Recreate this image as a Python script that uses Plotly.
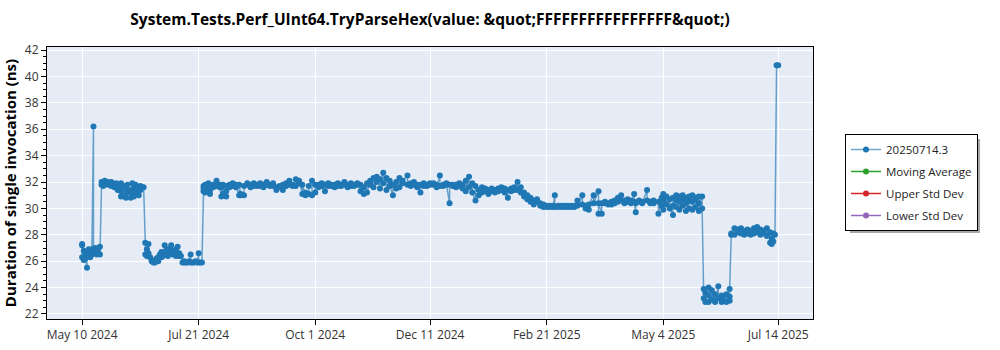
import plotly.graph_objects as go

# ---- data ----
dates = [
    "2024-05-10", "2024-05-11", "2024-05-12", "2024-05-13", "2024-05-14", "2024-05-15",
    "2024-05-16", "2024-05-17", "2024-05-18", "2024-05-19", "2024-05-20", "2024-05-21",
    "2024-05-22", "2024-05-23", "2024-05-24", "2024-05-26", "2024-05-27", "2024-05-28",
    "2024-05-30", "2024-05-31", "2024-06-01", "2024-06-02", "2024-06-03", "2024-06-05",
    "2024-06-06", "2024-06-07", "2024-06-09", "2024-06-10", "2024-06-11", "2024-06-12",
    "2024-06-14", "2024-06-15", "2024-06-16", "2024-06-17",
    "2024-06-18", "2024-06-19", "2024-06-20", "2024-06-21", "2024-06-22", "2024-06-23",
    "2024-06-24", "2024-06-25", "2024-06-26", "2024-06-27", "2024-06-28", "2024-06-29",
    "2024-06-30", "2024-07-01", "2024-07-02", "2024-07-03", "2024-07-04", "2024-07-05",
    "2024-07-06", "2024-07-07", "2024-07-08", "2024-07-09", "2024-07-10", "2024-07-11",
    "2024-07-12", "2024-07-13", "2024-07-14", "2024-07-15", "2024-07-16", "2024-07-17",
    "2024-07-18", "2024-07-19", "2024-07-20", "2024-07-21", "2024-07-22", "2024-07-23",
    "2024-07-24", "2024-07-25", "2024-07-27", "2024-07-28", "2024-07-30", "2024-08-01",
    "2024-08-03", "2024-08-04", "2024-08-05", "2024-08-07", "2024-08-09", "2024-08-11",
    "2024-08-13", "2024-08-15", "2024-08-16", "2024-08-18", "2024-08-20", "2024-08-22",
    "2024-08-24", "2024-08-26", "2024-08-28", "2024-08-30", "2024-09-01", "2024-09-03",
    "2024-09-05", "2024-09-07", "2024-09-09", "2024-09-11", "2024-09-13", "2024-09-15",
    "2024-09-17", "2024-09-19", "2024-09-21", "2024-09-23", "2024-09-25", "2024-09-27",
    "2024-09-29", "2024-10-01", "2024-10-03", "2024-10-05", "2024-10-07", "2024-10-09",
    "2024-10-11", "2024-10-13", "2024-10-15", "2024-10-17", "2024-10-19", "2024-10-21",
    "2024-10-23", "2024-10-25", "2024-10-27", "2024-10-29", "2024-10-31", "2024-11-02",
    "2024-11-04", "2024-11-06", "2024-11-08", "2024-11-10", "2024-11-12", "2024-11-14",
    "2024-11-16", "2024-11-18", "2024-11-20", "2024-11-22", "2024-11-24", "2024-11-27",
    "2024-11-29", "2024-12-01", "2024-12-03", "2024-12-05", "2024-12-07", "2024-12-09",
    "2024-12-11", "2024-12-13", "2024-12-15", "2024-12-17", "2024-12-19", "2024-12-21",
    "2024-12-23", "2024-12-25", "2024-12-27", "2024-12-29", "2024-12-31", "2025-01-02",
    "2025-01-04", "2025-01-06", "2025-01-08", "2025-01-10", "2025-01-12", "2025-01-14",
    "2025-01-16", "2025-01-18", "2025-01-20", "2025-01-22", "2025-01-24", "2025-01-26",
    "2025-01-28", "2025-01-30", "2025-02-01", "2025-02-03", "2025-02-05", "2025-02-07",
    "2025-02-09", "2025-02-11", "2025-02-13", "2025-02-15", "2025-02-17", "2025-02-19",
    "2025-02-21", "2025-02-23", "2025-02-25", "2025-02-26", "2025-02-28", "2025-03-02",
    "2025-03-04", "2025-03-06", "2025-03-08", "2025-03-10", "2025-03-12", "2025-03-15",
    "2025-03-17", "2025-03-19", "2025-03-22", "2025-03-25", "2025-03-27", "2025-03-29",
    "2025-03-31", "2025-04-02", "2025-04-04", "2025-04-06", "2025-04-08", "2025-04-10",
    "2025-04-12", "2025-04-14", "2025-04-16", "2025-04-17", "2025-04-19", "2025-04-21",
    "2025-04-24", "2025-04-26", "2025-04-28", "2025-05-01", "2025-05-03", "2025-05-04",
    "2025-05-06", "2025-05-08", "2025-05-10", "2025-05-12", "2025-05-14", "2025-05-16",
    "2025-05-18", "2025-05-20", "2025-05-22", "2025-05-24", "2025-05-26", "2025-05-28",
    "2025-05-29", "2025-05-30", "2025-06-01", "2025-06-03", "2025-06-05", "2025-06-07",
    "2025-06-09", "2025-06-10", "2025-06-12", "2025-06-14", "2025-06-15", "2025-06-17",
    "2025-06-19", "2025-06-21", "2025-06-23", "2025-06-25", "2025-06-27", "2025-06-29",
    "2025-07-01", "2025-07-03", "2025-07-05", "2025-07-07", "2025-07-09", "2025-07-10",
    "2025-07-11", "2025-07-12", "2025-07-13", "2025-07-14",
]

# one or more benchmark runs per date (ns)
runs = [
    [27.2, 26.3, 27.3], [26.1, 26.8], [26.6, 26.2], [25.5, 26.4], [26.6, 26.9], [26.3, 26.8],
    [26.9, 26.5], [36.2, 26.6], [26.8, 27.0], [26.5, 26.9], [26.6, 27.0], [27.1, 26.5],
    [31.8, 32.0], [31.7, 32.0], [31.9, 32.1], [31.8, 32.0], [31.9], [31.7, 32.0],
    [31.8, 31.6], [31.9], [31.6, 31.4], [31.5], [31.3, 31.9, 30.9], [31.7, 31.0],
    [31.5, 30.8], [31.8, 31.2], [31.4, 30.8], [31.9, 31.1], [31.6, 30.9], [31.8, 31.3],
    [31.5, 31.0], [31.7, 31.4], [31.6], [31.6],
    [27.4, 26.5], [26.9, 26.4], [27.3, 26.6], [26.3], [26.1, 26.0], [25.9],
    [25.9, 26.0], [26.2], [26.3, 26.0], [26.5], [26.3, 26.7], [26.6, 26.4],
    [27.2, 26.6], [26.8, 26.5], [26.9, 26.4], [26.7], [27.2, 26.6], [26.8, 26.5],
    [26.6], [26.9, 26.4], [27.1, 26.5], [26.6, 26.4], [26.4], [25.9],
    [25.9, 26.0], [25.9], [25.9], [26.0], [26.5, 25.9], [25.9],
    [25.9], [26.0], [25.9], [26.6, 25.9], [25.9], [25.9],
    [31.3, 31.7, 31.5], [31.8, 31.2, 31.6], [31.6, 31.9], [31.1, 31.7, 31.4], [31.8, 31.6], [32.1, 31.7],
    [31.8, 31.6], [30.9, 31.6], [31.1, 31.8], [31.7, 30.9, 31.3], [31.8, 31.6], [31.9, 31.7],
    [31.8, 31.6], [31.0, 31.8], [31.1, 31.0], [31.0, 31.7], [31.8, 31.9], [31.8, 31.6],
    [31.7, 31.9], [31.8, 31.7], [31.9, 31.7], [31.8, 31.6], [32.0, 31.8], [31.8, 31.7],
    [31.7, 31.9], [31.6, 31.4], [31.7, 31.6], [31.4, 31.8], [31.7, 31.9], [31.8, 32.1],
    [31.8, 31.7], [32.2, 31.7], [31.9, 32.1], [31.1, 31.8], [31.0, 31.2], [31.1, 31.7],
    [32.1, 31.0], [31.2, 31.8], [31.8, 31.6], [31.9, 31.7], [31.3, 31.8], [31.9, 31.7],
    [31.8, 31.7], [31.8, 31.6], [31.9, 31.7], [31.8, 31.7], [32.0, 31.8], [31.8, 31.6],
    [31.9, 31.7], [31.8, 31.7], [31.8, 31.9], [31.3, 31.8], [31.1, 31.6], [31.9, 31.2],
    [32.1, 31.8], [32.3, 31.6], [32.0, 32.4], [31.5, 32.2], [32.7, 31.9], [32.3, 31.4],
    [32.1, 31.7], [31.0, 31.8], [32.0, 31.5], [32.3, 31.6], [31.9, 32.1], [32.5, 31.8],
    [31.9, 31.7], [31.8, 32.0], [31.6, 31.8], [31.2, 31.8], [31.9, 31.7], [31.8, 31.7],
    [31.9, 31.8], [31.8, 31.9], [31.8, 31.6], [32.5, 31.7], [31.8, 31.7], [31.9, 31.8],
    [30.4, 31.8], [31.8, 31.7], [31.8, 31.6], [31.7, 31.9], [31.8, 31.5], [32.1, 31.3],
    [32.4, 31.6], [31.9, 31.2], [30.6, 31.7], [31.4, 31.0], [31.6, 31.2], [31.3, 31.5],
    [31.4, 31.1], [31.5, 31.3], [31.4, 31.2], [31.5, 31.3], [31.6, 31.4], [31.2, 31.5],
    [30.8, 31.4], [31.5, 31.3], [31.6, 31.4], [32.0, 31.4], [31.6, 31.2], [31.2, 30.9],
    [31.0, 30.7], [30.8, 30.5], [30.6, 30.3], [30.5, 30.7], [30.4, 30.2], [30.1, 30.3],
    [30.2, 30.1], [30.2, 30.1], [30.1, 30.2], [31.0, 30.1], [30.2, 30.1], [30.1, 30.2],
    [30.1, 30.2], [30.2, 30.1], [30.1, 30.2], [30.2, 30.1], [30.6, 30.2], [31.0, 30.3],
    [30.2, 30.0], [29.9, 30.3], [31.0, 30.4], [31.3, 29.6, 30.4], [29.6, 30.4], [30.4, 30.5],
    [30.4, 30.3], [30.5, 30.3], [30.6, 30.4], [30.8, 30.5], [31.0, 30.6], [30.6, 30.4],
    [30.5, 30.7], [30.6, 30.4], [31.1, 30.5], [29.7, 30.4], [30.5, 30.6], [30.5, 30.4],
    [31.4, 30.6], [30.5, 30.4], [30.6, 30.4], [30.5, 29.6], [30.8, 30.2], [31.1, 29.9, 30.6],
    [30.9, 30.3], [30.7, 30.0], [29.5, 30.8, 30.2], [31.0, 30.1, 30.6], [30.9, 29.9, 30.5], [31.0, 30.2, 30.7],
    [30.8, 29.8, 30.4], [30.9, 30.0, 30.6], [31.0, 29.9, 30.5], [30.8, 30.1, 30.7], [30.9, 29.8, 30.4], [30.9, 30.0],
    [23.2, 23.9], [22.9, 23.6], [23.4, 22.9, 24.0], [23.1, 23.8], [22.9, 23.5, 23.0], [24.1, 23.2],
    [22.9, 23.4], [23.1, 23.0], [23.5, 22.9], [23.3, 23.0, 23.9], [28.0, 28.1], [28.5, 28.0],
    [28.2, 28.4], [28.1, 28.5], [28.0, 28.3], [28.4, 28.1], [28.0, 28.3], [28.5, 28.1],
    [28.2, 28.6], [28.0, 28.4], [28.3, 28.1], [28.5, 27.9], [28.2, 27.4], [27.3, 27.7],
    [28.1, 27.5], [28.0], [40.85], [40.85],
]

series_names = ["20250714.3", "Moving Average", "Upper Std Dev", "Lower Std Dev"]
series_colors = ["#1f77b4", "#2ca02c", "#d62728", "#9467bd"]
tick_dates = ["2024-05-10", "2024-07-21", "2024-10-01", "2024-12-11",
              "2025-02-21", "2025-05-04", "2025-07-14"]

title_text = "System.Tests.Perf_UInt64.TryParseHex(value: &quot;FFFFFFFFFFFFFFFF&quot;)"
y_title = "Duration of single invocation (ns)"

# flatten runs
xs, ys = [], []
for d, vals in zip(dates, runs):
    for v in vals:
        xs.append(d)
        ys.append(v)

FONT = "Open Sans"

fig = go.Figure()
fig.add_trace(go.Scatter(
    x=xs, y=ys, mode="lines+markers", name=series_names[0],
    line=dict(color="rgba(31,119,180,0.65)", width=1.5),
    marker=dict(color=series_colors[0], size=6),
    legendgroup="g0",
))
for i in range(1, 4):
    fig.add_trace(go.Scatter(
        x=[None], y=[None], mode="lines+markers", name=series_names[i],
        line=dict(color=series_colors[i], width=1.5),
        marker=dict(color=series_colors[i], size=6),
        legendgroup="g%d" % i,
    ))

L, R, T, B = 47, 187, 47, 31
W, H = 1000, 350
pw, ph = W - L - R, H - T - B

def px_x(p):
    return (p - L) / pw

def px_y(p):
    return (H - B - p) / ph

fig.update_layout(
    width=W, height=H,
    margin=dict(l=L, r=R, t=T, b=B, autoexpand=False),
    paper_bgcolor="white",
    plot_bgcolor="#e5ecf6",
    font=dict(family=FONT, size=12, color="#333"),
    title=dict(text="<b>%s</b>" % title_text, x=0.5, xref="paper", xanchor="center",
               y=1 - 20 / H, yanchor="middle", yref="container",
               font=dict(family=FONT, size=15.5, color="black")),
    showlegend=True,
    legend=dict(x=px_x(845), y=px_y(134), xanchor="left", yanchor="top",
                bgcolor="white", bordercolor="black", borderwidth=1,
                font=dict(family=FONT, size=11.5, color="#222"),
                traceorder="grouped", tracegroupgap=3),
    shapes=[dict(type="rect", xref="paper", yref="paper",
                 x0=px_x(850), x1=px_x(980), y0=px_y(233), y1=px_y(139),
                 fillcolor="#a8a8a8", line=dict(width=0), layer="above")],
)

fig.update_xaxes(
    type="date", automargin=False,
    range=["2024-04-18 07:00", "2025-08-04 12:00"],
    tickvals=tick_dates, tickformat="%b %-d %Y",
    showgrid=True, gridcolor="white", gridwidth=1,
    showline=True, linecolor="black", linewidth=1, mirror=True,
    ticks="outside", ticklen=5, tickcolor="black",
    tickfont=dict(family=FONT, size=12, color="#333"),
    zeroline=False,
)
fig.update_yaxes(
    automargin=False,
    range=[21.62, 42.23], dtick=2, tick0=0,
    showgrid=True, gridcolor="white", gridwidth=1,
    showline=True, linecolor="black", linewidth=1, mirror=True,
    ticks="outside", ticklen=5, tickcolor="black",
    minor=dict(dtick=0.5, ticks="outside", ticklen=3, tickcolor="black", showgrid=False),
    tickfont=dict(family=FONT, size=12, color="#333"),
    title=dict(text="<b>%s</b>" % y_title, font=dict(family=FONT, size=15, color="black"), standoff=6),
    zeroline=False,
)

fig.write_html("out.html")
